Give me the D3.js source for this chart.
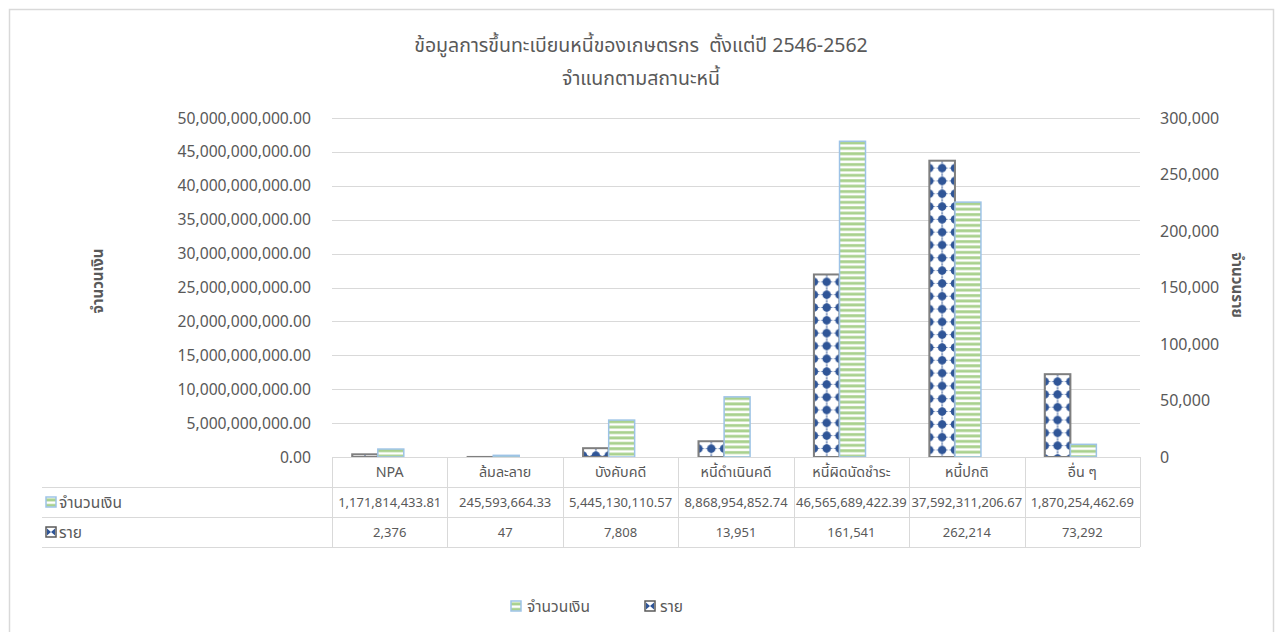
<!DOCTYPE html>
<html>
<head>
<meta charset="utf-8">
<script src="https://cdn.jsdelivr.net/npm/d3@7/dist/d3.min.js"></script>
<style>
  html, body { margin: 0; padding: 0; background: #fff; }
  svg { display: block; }
  text { font-family: "Noto Sans", "Noto Sans Thai", "Leelawadee UI", Tahoma, sans-serif; fill: #595959; white-space: pre; }
</style>
</head>
<body>
<svg id="chart" width="1280" height="632"></svg>
<script>
const categories = ["NPA", "ล้มละลาย", "บังคับคดี", "หนี้ดำเนินคดี", "หนี้ผิดนัดชำระ", "หนี้ปกติ", "อื่น ๆ"];
const amountValues = [1171814433.81, 245593664.33, 5445130110.57, 8868954852.74, 46565689422.39, 37592311206.67, 1870254462.69];
const countValues = [2376, 47, 7808, 13951, 161541, 262214, 73292];
const leftTicks = [0, 5e9, 10e9, 15e9, 20e9, 25e9, 30e9, 35e9, 40e9, 45e9, 50e9];
const rightTicks = [0, 50000, 100000, 150000, 200000, 250000, 300000];
const seriesNames = ["จำนวนเงิน", "ราย"];
const titleLines = ["ข้อมูลการขึ้นทะเบียนหนี้ของเกษตรกร  ตั้งแต่ปี 2546-2562", "จำแนกตามสถานะหนี้"];
const leftTitle = "จำนวนเงิน";
const rightTitle = "จำนวนราย";

const svg = d3.select("#chart");
const plot = { left: 332, right: 1140, top: 118, bottom: 457 };
const tableRows = [457, 487, 517, 547];
const tableLeft = 42;

const GREEN = "#a9d18e", GREEN_BORDER = "#9dc3e6", BLUE = "#2f5597", DARK_BORDER = "#7f7f7f", GRID = "#d9d9d9";

// outer border
svg.append("rect").attr("x", 9.5).attr("y", 9.5).attr("width", 1264).attr("height", 660)
  .attr("fill", "#fff").attr("stroke", GRID).attr("stroke-width", 1.5);

const x = d3.scaleBand().domain(categories).range([plot.left, plot.right]).padding(0);
const yL = d3.scaleLinear().domain([0, 50e9]).range([plot.bottom, plot.top]);
const yR = d3.scaleLinear().domain([0, 300000]).range([plot.bottom, plot.top]);
const bw = x.bandwidth();

const defs = svg.append("defs");

function stripePattern(id, px, py) {
  const p = defs.append("pattern").attr("id", id).attr("patternUnits", "userSpaceOnUse")
    .attr("x", px).attr("y", py).attr("width", 10).attr("height", 5.4);
  p.append("rect").attr("width", 10).attr("height", 5.4).attr("fill", "#fff");
  p.append("rect").attr("y", 0.2).attr("width", 10).attr("height", 2.9).attr("fill", GREEN);
  return "url(#" + id + ")";
}
function dotPattern(id, px, py, w) {
  const s = w / 2;
  const p = defs.append("pattern").attr("id", id).attr("patternUnits", "userSpaceOnUse")
    .attr("x", px).attr("y", py).attr("width", s).attr("height", s);
  p.append("rect").attr("width", s).attr("height", s).attr("fill", "#fff");
  const cy = s / 2;
  [0, s].forEach(cx => {
    p.append("line").attr("x1", cx).attr("x2", cx).attr("y1", 0).attr("y2", s)
      .attr("stroke", BLUE).attr("stroke-width", 1).attr("stroke-dasharray", "1,2");
    p.append("circle").attr("cx", cx).attr("cy", cy).attr("r", s * 0.33).attr("fill", BLUE);
    const k = s * 0.5;
    p.append("path").attr("d", `M${cx},${cy - k} L${cx + 1.2},${cy} L${cx},${cy + k} L${cx - 1.2},${cy}Z M${cx - k},${cy} L${cx},${cy - 1.2} L${cx + k},${cy} L${cx},${cy + 1.2}Z`)
      .attr("fill", BLUE);
  });
  return "url(#" + id + ")";
}

// gridlines
svg.append("g").selectAll("line").data(leftTicks.slice(1)).join("line")
  .attr("x1", plot.left).attr("x2", plot.right)
  .attr("y1", d => Math.round(yL(d)) + 0.5).attr("y2", d => Math.round(yL(d)) + 0.5)
  .attr("stroke", GRID).attr("stroke-width", 1);

// left axis labels
const leftAxis = d3.axisLeft(yL).tickValues(leftTicks).tickFormat(d3.format(",.2f")).tickSize(0).tickPadding(0);
const gL = svg.append("g").attr("transform", `translate(311,0)`).call(leftAxis);
gL.select(".domain").remove();
gL.selectAll("text").attr("font-size", 15.7).attr("fill", "#595959")
  .style("font-family", "'Noto Sans', sans-serif");

// right axis labels
const rightAxis = d3.axisRight(yR).tickValues(rightTicks).tickFormat(d3.format(",")).tickSize(0).tickPadding(0);
const gR = svg.append("g").attr("transform", `translate(1160,0)`).call(rightAxis);
gR.select(".domain").remove();
gR.selectAll("text").attr("font-size", 16).attr("fill", "#595959")
  .style("font-family", "'Noto Sans', sans-serif");

// bars
const dotX0 = 0.175, dotW = 0.222, grnX0 = 0.397, grnW = 0.225;
const bars = svg.append("g");
categories.forEach((c, i) => {
  const bx = x(c) + dotX0 * bw, w = dotW * bw;
  const yTop = yR(countValues[i]);
  bars.append("rect").attr("x", bx).attr("y", yTop).attr("width", w).attr("height", plot.bottom - yTop)
    .attr("fill", dotPattern("dot" + i, bx, yTop + 1, w)).attr("stroke", DARK_BORDER).attr("stroke-width", 2);
  const gx = x(c) + grnX0 * bw, gw = grnW * bw;
  const gTop = yL(amountValues[i]);
  bars.append("rect").attr("x", gx).attr("y", gTop).attr("width", gw).attr("height", plot.bottom - gTop)
    .attr("fill", stripePattern("str" + i, gx, gTop)).attr("stroke", GREEN_BORDER).attr("stroke-width", 1.5);
});

// data table
const tg = svg.append("g");
tg.append("line").attr("x1", plot.left).attr("x2", plot.right).attr("y1", tableRows[0] + 0.5).attr("y2", tableRows[0] + 0.5)
  .attr("stroke", GRID);
tableRows.slice(1).forEach(r => {
  tg.append("line").attr("x1", tableLeft).attr("x2", plot.right).attr("y1", r + 0.5).attr("y2", r + 0.5).attr("stroke", GRID);
});
categories.concat([null]).forEach((c) => {
  const vx = c ? x(c) : plot.right;
  tg.append("line").attr("x1", Math.round(vx) + 0.5).attr("x2", Math.round(vx) + 0.5)
    .attr("y1", tableRows[0]).attr("y2", tableRows[3]).attr("stroke", GRID);
});
tg.selectAll("text.cat").data(categories).join("text").attr("class", "cat")
  .attr("x", d => x(d) + bw / 2).attr("y", 477).attr("text-anchor", "middle").attr("font-size", 14.3).text(d => d);
tg.selectAll("text.amt").data(amountValues).join("text").attr("class", "amt")
  .attr("x", (d, i) => x(categories[i]) + bw / 2).attr("y", 507).attr("text-anchor", "middle").attr("font-size", 13)
  .text(d => d3.format(",.2f")(d));
tg.selectAll("text.cnt").data(countValues).join("text").attr("class", "cnt")
  .attr("x", (d, i) => x(categories[i]) + bw / 2).attr("y", 537).attr("text-anchor", "middle").attr("font-size", 13)
  .text(d => d3.format(",")(d));

function greenKey(g, kx, ky, id) {
  g.append("rect").attr("x", kx).attr("y", ky).attr("width", 10).attr("height", 10)
    .attr("fill", stripePattern(id, kx, ky + 1.3)).attr("stroke", GREEN_BORDER).attr("stroke-width", 1.5);
}
function dotKey(g, kx, ky, id) {
  g.append("rect").attr("x", kx).attr("y", ky).attr("width", 10).attr("height", 10).attr("fill", "#fff")
    .attr("stroke", "#595959").attr("stroke-width", 1.5);
  g.append("path").attr("d", `M${kx + 1},${ky + 1.5} L${kx + 5},${ky + 5} L${kx + 1},${ky + 8.5}Z M${kx + 9},${ky + 1.5} L${kx + 5},${ky + 5} L${kx + 9},${ky + 8.5}Z`)
    .attr("fill", BLUE);
}
greenKey(tg, 46, 497, "k1");
tg.append("text").attr("x", 59).attr("y", 508).attr("font-size", 15.5).text(seriesNames[0]);
dotKey(tg, 46, 527, "k2");
tg.append("text").attr("x", 59).attr("y", 538).attr("font-size", 15.5).text(seriesNames[1]);

// title
svg.append("text").attr("x", 641).attr("y", 52).attr("text-anchor", "middle").attr("font-size", 19.5).text(titleLines[0]);
svg.append("text").attr("x", 641).attr("y", 85).attr("text-anchor", "middle").attr("font-size", 19.5).text(titleLines[1]);

// axis titles
svg.append("text").attr("transform", "translate(103,281) rotate(-90)").attr("text-anchor", "middle")
  .attr("font-size", 15).attr("font-weight", "bold").text(leftTitle);
svg.append("text").attr("transform", "translate(1232,285) rotate(90)").attr("text-anchor", "middle")
  .attr("font-size", 15).attr("font-weight", "bold").text(rightTitle);

// legend
const lg = svg.append("g");
greenKey(lg, 511, 601, "k3");
lg.append("text").attr("x", 527).attr("y", 612).attr("font-size", 15.5).text(seriesNames[0]);
dotKey(lg, 645, 601, "k4");
lg.append("text").attr("x", 660).attr("y", 612).attr("font-size", 15.5).text(seriesNames[1]);
</script>
</body>
</html>
